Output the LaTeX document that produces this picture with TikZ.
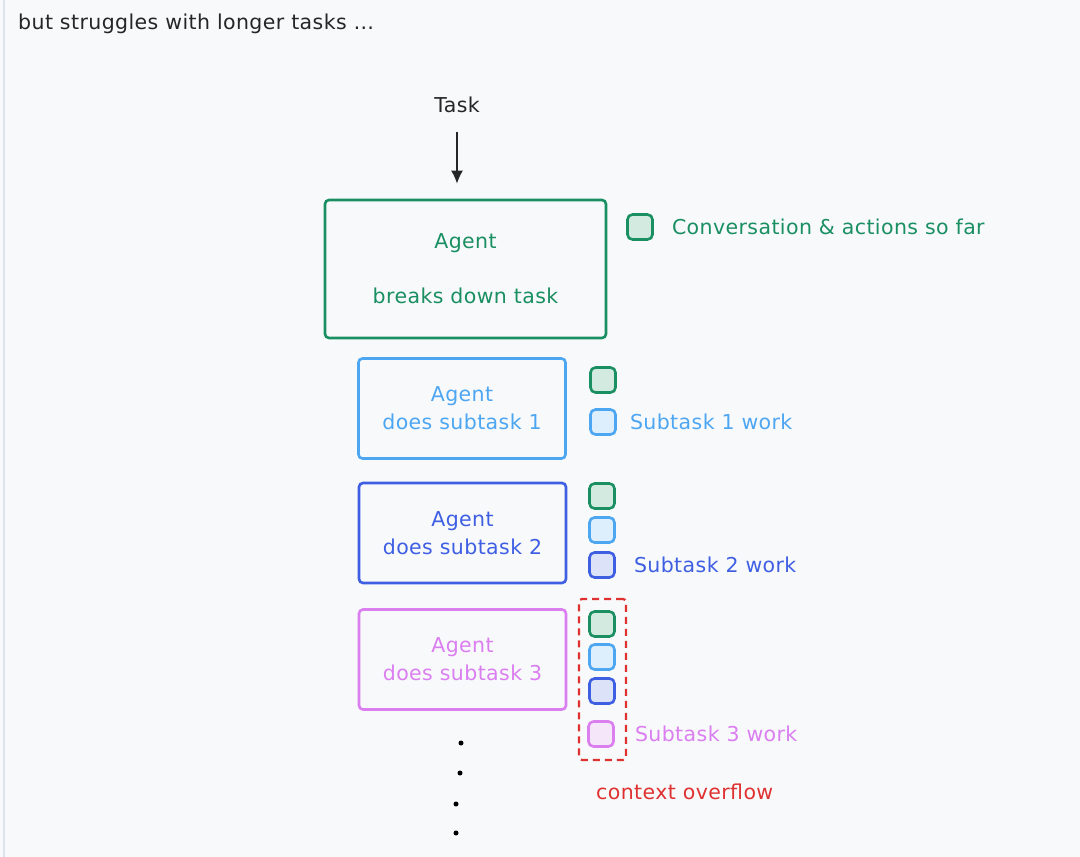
\documentclass[tikz,border=0pt]{standalone}
\usepackage{fontspec}
\setmainfont{DejaVu Sans}[LetterSpace=2]
\usetikzlibrary{arrows.meta,positioning}

\definecolor{bgc}{HTML}{F8F9FB}
\definecolor{barc}{HTML}{DDE3EC}
\definecolor{grn}{HTML}{1A8F62}
\definecolor{grnfill}{HTML}{D3EAE1}
\definecolor{lblue}{HTML}{4DA6F2}
\definecolor{lbluefill}{HTML}{DDEEFC}
\definecolor{dblue}{HTML}{3F5FE3}
\definecolor{dbluefill}{HTML}{DCE2F8}
\definecolor{vio}{HTML}{DA7EF0}
\definecolor{viofill}{HTML}{F5E6FA}
\definecolor{ovred}{HTML}{E03131}

\tikzset{
 txt/.style={font=\fontsize{20.5}{24}\selectfont, inner sep=0pt},
 agentbox/.style={draw, line width=2.6pt, rounded corners=4pt, minimum width=207pt, minimum height=100pt, align=center, font=\fontsize{20.5}{28}\selectfont},
 ctxsq/.style={draw=#1, fill=#1fill, line width=2.6pt, rounded corners=5pt, minimum size=25pt, inner sep=0pt},
 dot/.style={circle, fill=black, inner sep=0pt, minimum size=5pt}
}

\begin{document}
\begin{tikzpicture}[x=1pt, y=-1pt]
\useasboundingbox (0,0) rectangle (1080,857);
\fill[bgc] (0,0) rectangle (1080,857);
\fill[barc] (3,0) rectangle (5,857);

\node (title) [txt, anchor=west, black!85] at (18,24) {but struggles with longer tasks \dots};
\node (task) [txt, black!85] at (457,105) {Task};

% main agent
\node (main) [agentbox, draw=grn, text=grn, minimum width=281pt, minimum height=138pt] at (465.5,269) {Agent\\[27pt]breaks down task};
\node (leg0) [ctxsq=grn] at (640,227) {};
\node (conv) [txt, grn, right=18pt of leg0] {Conversation \& actions so far};

\draw[-{Latex[length=13pt,width=12pt]}, line width=1.8pt, black!85, shorten <=19pt, shorten >=15pt] (task) -- (task |- main.north);

% subtask 1
\node (sub1) [agentbox, draw=lblue, text=lblue] at (462,408.5) {Agent\\does subtask 1};
\node (a1) [ctxsq=grn] at (603,380) {};
\node (b1) [ctxsq=lblue] at (603,422) {};
\node (w1) [txt, lblue, right=13pt of b1] {Subtask 1 work};

% subtask 2
\node (sub2) [agentbox, draw=dblue, text=dblue] at (462.5,533) {Agent\\does subtask 2};
\node (a2) [ctxsq=grn] at (602,496) {};
\node (b2) [ctxsq=lblue] at (602,530) {};
\node (c2) [ctxsq=dblue] at (602,565) {};
\node (w2) [txt, dblue, right=18pt of c2] {Subtask 2 work};

% subtask 3
\node (sub3) [agentbox, draw=vio, text=vio] at (462.5,659.5) {Agent\\does subtask 3};
\node (ovf) [draw=ovred, dashed, dash pattern=on 7pt off 5pt, line width=2.2pt, rounded corners=3pt, minimum width=47pt, minimum height=161pt] at (602.5,679.5) {};
\node (a3) [ctxsq=grn] at (602,624) {};
\node (b3) [ctxsq=lblue] at (602,657) {};
\node (c3) [ctxsq=dblue] at (602,691) {};
\node (d3) [ctxsq=vio] at (601,734) {};
\node (w3) [txt, vio, right=20pt of d3] {Subtask 3 work};
\node (ovl) [txt, ovred, anchor=west] at (596,792) {context overflow};

\node (dt1) [dot] at (461,743) {};
\node (dt2) [dot] at (460,773) {};
\node (dt3) [dot] at (456,804) {};
\node (dt4) [dot] at (456,833) {};

\end{tikzpicture}
\end{document}
